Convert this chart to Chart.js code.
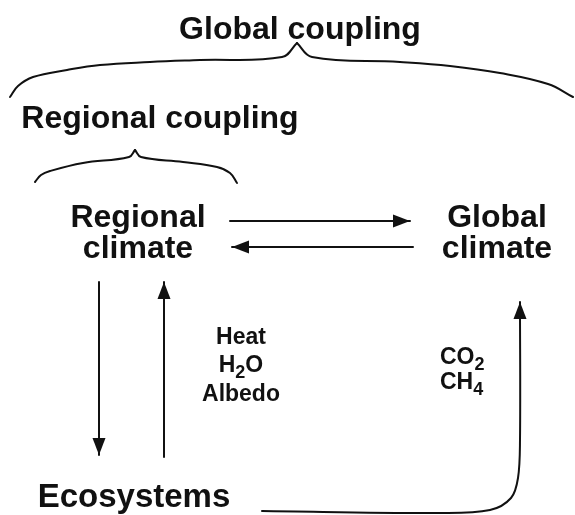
<!DOCTYPE html>
<html>
<head>
<meta charset="utf-8">
<script src="https://cdn.jsdelivr.net/npm/chart.js@4.4.1/dist/chart.umd.min.js"></script>
<style>
  html, body { margin: 0; padding: 0; background: #ffffff; }
  #diagrama { display: block; }
</style>
</head>
<body>
<canvas id="diagrama" width="575" height="515"></canvas>
<script>
// ========== DATOS DEL DIAGRAMA (coordenadas en unidades de los ejes) ==========
const headingLabels = ['Global coupling', 'Regional coupling'];
const headingX = [300, 160];
const headingY = [39, 128];

const nodeLabels = [['Regional', 'climate'], ['Global', 'climate'], ['Ecosystems']];
const nodeX = [138, 497, 134];
const nodeY = [227, 227, 507];

const landFluxes = ['Heat', 'H_2O', 'Albedo'];
const landFluxX = 241;
const landFluxY = [344, 372, 401];

const gasFluxes = ['CO_2', 'CH_4'];
const gasFluxX = 440;
const gasFluxY = [364, 389];

// llaves (dos mitades cada una, se juntan en la punta)
const bigBraceLeft = [[10, 97], [18, 86], [33, 77], [67, 70], [100, 65], [150, 62], [200, 60], [282, 57], [297, 43]];
const bigBraceRight = [[297, 43], [312, 57], [400, 62], [450, 66], [500, 73], [548, 84], [573, 97]];
const smallBraceLeft = [[35, 182], [41, 175], [50, 171], [83, 163], [129, 157], [135, 150]];
const smallBraceRight = [[135, 150], [141, 157], [183, 162], [217, 167], [230, 173], [237, 183]];

// flechas (la punta va en el último punto)
const arrowToGlobal = [[230, 221], [410, 221]];
const arrowToRegional = [[413, 247], [232, 247]];
const arrowDown = [[99, 282], [99, 455]];
const arrowUp = [[164, 457], [164, 282]];
const arrowGases = [[262, 511], [440, 513], [490, 510], [511, 498], [518, 478], [520, 440], [520, 302]];

const toPts = arr => arr.map(p => ({ x: p[0], y: p[1] }));
const INK = '#111111';
const FONT = '"Liberation Sans", Arial, Helvetica, sans-serif';

function lineSet(points, opts) {
    return Object.assign({
        data: toPts(points),
        showLine: true,
        borderColor: INK,
        borderWidth: 2,
        pointRadius: 0,
        tension: 0.4,
        fill: false
    }, opts || {});
}

// texto con subíndices: "H_2O" -> H, 2 (sub), O
function drawChem(ctx, text, x, y, size, align) {
    const parts = [];
    for (let i = 0; i < text.length; i++) {
        if (text[i] === '_') { parts.push({ t: text[i + 1], sub: true }); i++; }
        else parts.push({ t: text[i], sub: false });
    }
    const subSize = Math.round(size * 0.8);
    let total = 0;
    parts.forEach(p => {
        ctx.font = `bold ${p.sub ? subSize : size}px ${FONT}`;
        p.w = ctx.measureText(p.t).width;
        total += p.w;
    });
    let cx = align === 'center' ? x - total / 2 : x;
    ctx.textAlign = 'left';
    parts.forEach(p => {
        ctx.font = `bold ${p.sub ? subSize : size}px ${FONT}`;
        ctx.fillText(p.t, cx, p.sub ? y + size * 0.28 : y);
        cx += p.w;
    });
}

const diagramPlugin = {
    id: 'diagramPlugin',
    afterDatasetsDraw(chart) {
        const ctx = chart.ctx;
        const sx = chart.scales.x, sy = chart.scales.y;
        const px = v => sx.getPixelForValue(v);
        const py = v => sy.getPixelForValue(v);

        // puntas de flecha
        ctx.save();
        ctx.fillStyle = INK;
        chart.data.datasets.forEach(ds => {
            if (!ds.arrow) return;
            const d = ds.data;
            const a = d[d.length - 2], b = d[d.length - 1];
            const x1 = px(a.x), y1 = py(a.y), x2 = px(b.x), y2 = py(b.y);
            const ang = Math.atan2(y2 - y1, x2 - x1);
            const len = 17, half = 6.5;
            ctx.beginPath();
            ctx.moveTo(x2, y2);
            ctx.lineTo(x2 - len * Math.cos(ang) + half * Math.sin(ang), y2 - len * Math.sin(ang) - half * Math.cos(ang));
            ctx.lineTo(x2 - len * Math.cos(ang) - half * Math.sin(ang), y2 - len * Math.sin(ang) + half * Math.cos(ang));
            ctx.closePath();
            ctx.fill();
        });

        // textos
        ctx.fillStyle = INK;
        ctx.textBaseline = 'alphabetic';
        ctx.textAlign = 'center';
        ctx.font = `bold 32px ${FONT}`;
        headingLabels.forEach((t, i) => ctx.fillText(t, px(headingX[i]), py(headingY[i])));

        nodeLabels.forEach((lines, i) => {
            ctx.font = `bold ${i === 2 ? 33 : 32}px ${FONT}`;
            lines.forEach((t, j) => ctx.fillText(t, px(nodeX[i]), py(nodeY[i] + j * 31)));
        });

        landFluxes.forEach((t, i) => drawChem(ctx, t, px(landFluxX), py(landFluxY[i]), 23, 'center'));
        gasFluxes.forEach((t, i) => drawChem(ctx, t, px(gasFluxX), py(gasFluxY[i]), 23, 'left'));
        ctx.restore();
    }
};

new Chart(document.getElementById('diagrama'), {
    type: 'scatter',
    data: {
        datasets: [
            lineSet(bigBraceLeft),
            lineSet(bigBraceRight),
            lineSet(smallBraceLeft),
            lineSet(smallBraceRight),
            lineSet(arrowToGlobal, { tension: 0, arrow: true }),
            lineSet(arrowToRegional, { tension: 0, arrow: true }),
            lineSet(arrowDown, { tension: 0, arrow: true }),
            lineSet(arrowUp, { tension: 0, arrow: true }),
            lineSet(arrowGases, { tension: 0.35, arrow: true })
        ]
    },
    options: {
        responsive: false,
        animation: false,
        devicePixelRatio: 1,
        layout: { padding: 0 },
        plugins: { legend: { display: false }, tooltip: { enabled: false } },
        scales: {
            x: { type: 'linear', min: 0, max: 575, display: false },
            y: { type: 'linear', min: 0, max: 515, reverse: true, display: false }
        },
        elements: { line: { borderCapStyle: 'round' } }
    },
    plugins: [diagramPlugin]
});
</script>
</body>
</html>
